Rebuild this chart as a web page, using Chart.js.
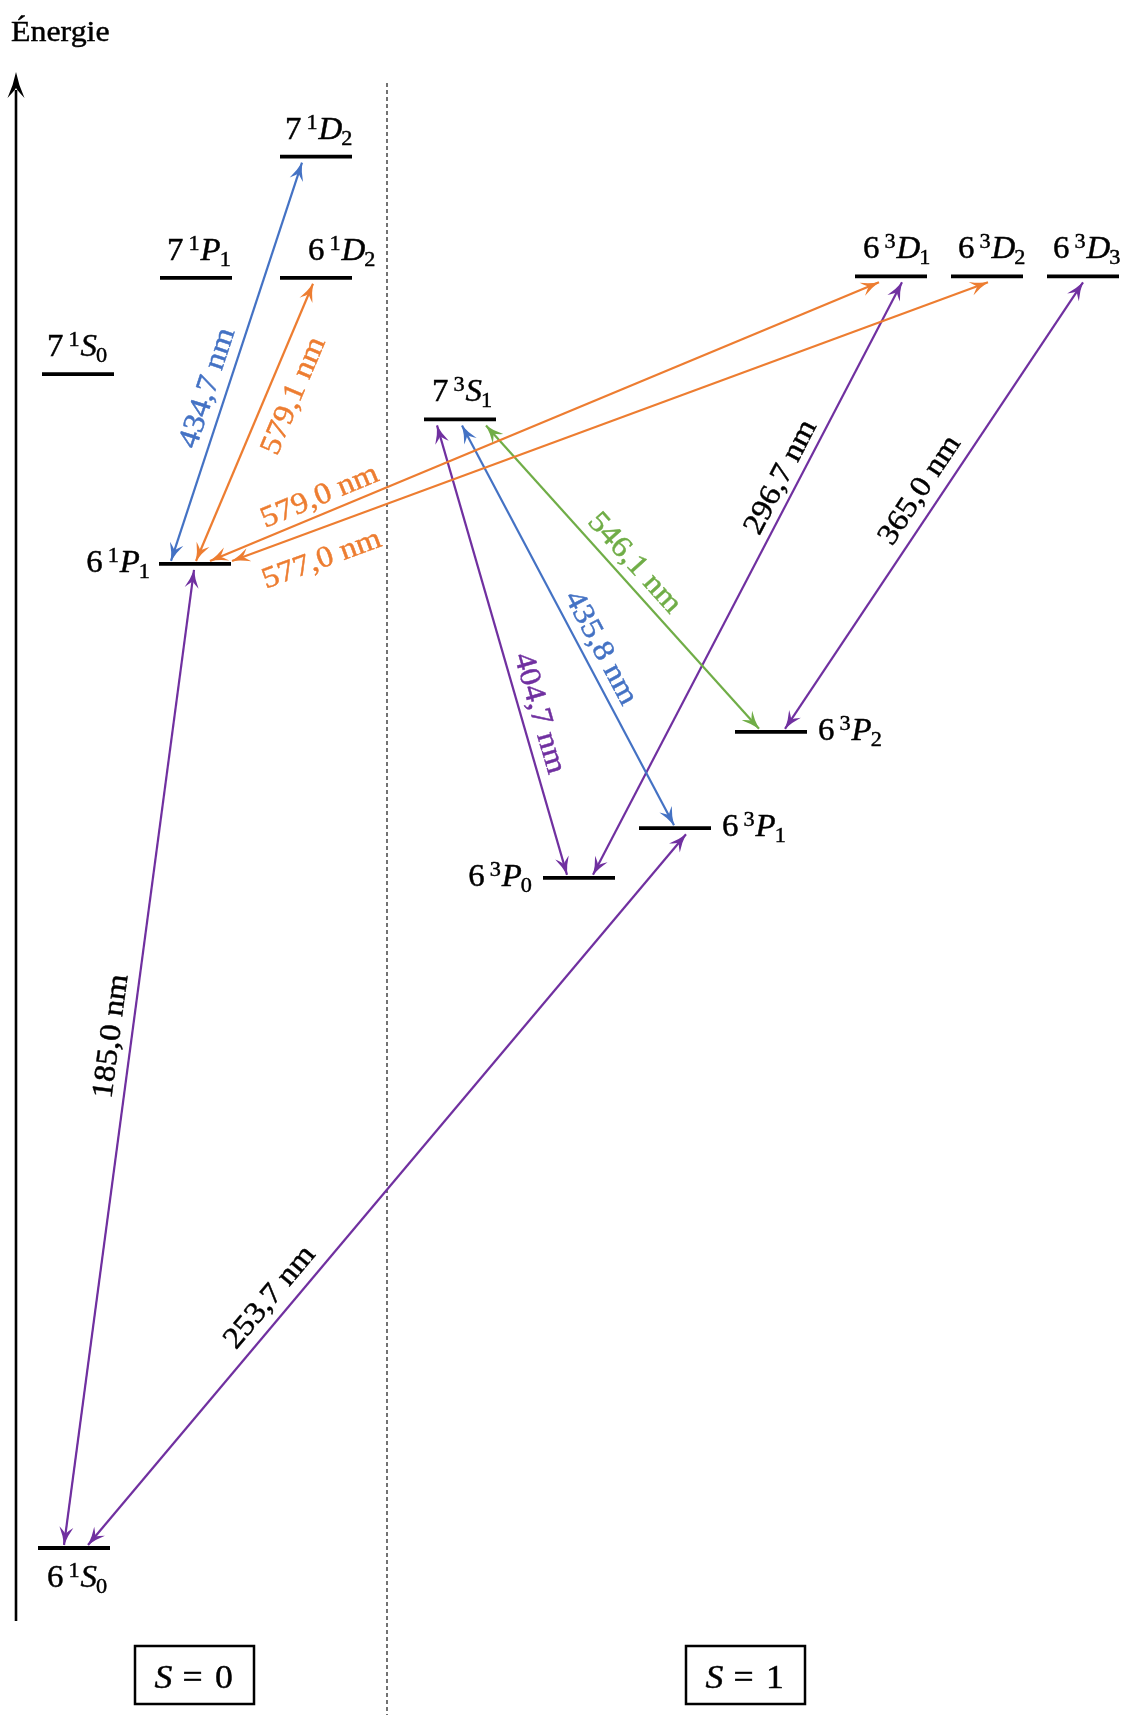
<!DOCTYPE html>
<html><head><meta charset="utf-8">
<script src="https://cdn.jsdelivr.net/npm/chart.js@4.4.1/dist/chart.umd.min.js"></script>
<style>html,body{margin:0;padding:0;background:#fff;}#wrap{width:1125px;height:1715px;}canvas{display:block;}</style>
</head><body><div id="wrap"><canvas id="c" width="1125" height="1715"></canvas></div>
<script>
// ---------------- DATA ----------------
// Energy levels of mercury (energy in eV)
const levelN        = [6,   6,    7,    7,    6,    7,    6,    6,    6,    7,    6,    6,    6];
const levelMult     = [1,   1,    1,    1,    1,    1,    3,    3,    3,    3,    3,    3,    3];
const levelL        = ['S','P',  'S',  'P',  'D',  'D',  'P',  'P',  'P',  'S',  'D',  'D',  'D'];
const levelJ        = [0,   1,    0,    1,    2,    2,    0,    1,    2,    1,    1,    2,    3];
const levelEnergy   = [0.00,6.74, 8.04, 8.70, 8.70, 9.53, 4.59, 4.93, 5.59, 7.73, 8.71, 8.71, 8.71];

// Transitions (index into level arrays), wavelength in nm
const transLower      = [0,   0,    1,    1,    1,    1,    8,    7,    6,    6,    8];
const transUpper      = [1,   7,    5,    4,    10,   11,   9,    9,    9,    10,   12];
const transWavelength = [185.0, 253.7, 434.7, 579.1, 579.0, 577.0, 546.1, 435.8, 404.7, 296.7, 365.0];

// Spin groups
const spinLabels = ['S = 0', 'S = 1'];
const axisTitle = 'Énergie';

// ---------------- LAYOUT / STYLE ----------------
const W = 1125, H = 1715;
const PX_PER_EV = 146;
const GROUND_PX = 1548;
const Y_MAX = GROUND_PX / PX_PER_EV;
const Y_MIN = Y_MAX - H / PX_PER_EV;

const levelX0   = [38, 159, 42, 160, 280, 280, 543, 639, 735, 424, 855, 951, 1047];
const LEVEL_W   = 72;
const levelSide = ['below','left','above','above','above','above','left','right','right','above','above','above','above'];
const levelDx   = [9, 8, 5, 7, 28, 5, 10, 11, 11, 8, 8, 7, 6];

const PURPLE = '#7030A0', BLUE = '#4472C4', ORANGE = '#ED7D31', GREEN = '#70AD47';
const transColor = [PURPLE, PURPLE, BLUE, ORANGE, ORANGE, ORANGE, GREEN, BLUE, PURPLE, PURPLE, PURPLE];
const transTextColor = ['#000','#000', BLUE, ORANGE, ORANGE, ORANGE, GREEN, BLUE, PURPLE, '#000', '#000'];
const transLowX = [64, 88, 171, 196, 210, 232, 759, 674, 567, 593, 785];
const transUpX  = [194, 686, 302, 313, 879, 988, 486, 462, 437, 902, 1083];
const labelT = [0.519, 0.330, 0.419, 0.632, 0.174, 0.105, 0.506, 0.422, 0.348, 0.6575, 0.509];
const labelD = [22, 22, 21, -24, 19, -28, -20, -20, -20, 19, 22];
const GAP_LOW = 3, GAP_UP = 6;

const SERIF = '"Liberation Serif", "DejaVu Serif", serif';
const SX = 1.1;
const HEAD_L = 18, HEAD_W = 7;

// ---------------- DATASETS ----------------
const datasets = [];
levelEnergy.forEach((e, i) => {
  datasets.push({
    kind: 'level', idx: i,
    data: [{x: levelX0[i], y: e}, {x: levelX0[i] + LEVEL_W, y: e}],
    showLine: true, borderColor: '#000', borderWidth: 3.8, pointRadius: 0,
    borderCapStyle: 'butt', order: 1
  });
});
transWavelength.forEach((wl, k) => {
  const lo = transLower[k], up = transUpper[k];
  datasets.push({
    kind: 'trans', idx: k,
    data: [{x: transLowX[k], y: levelEnergy[lo] + GAP_LOW / PX_PER_EV},
           {x: transUpX[k],  y: levelEnergy[up] - GAP_UP / PX_PER_EV}],
    showLine: true, borderColor: transColor[k], borderWidth: 2.2, pointRadius: 0,
    borderCapStyle: 'butt', order: 2
  });
});

// ---------------- DRAW HELPERS ----------------
function drawText(ctx, s, x, y, font, color, sx) {
  ctx.save();
  ctx.font = font; ctx.fillStyle = color; ctx.strokeStyle = color; ctx.lineWidth = 0.45;
  ctx.textAlign = 'left'; ctx.textBaseline = 'alphabetic';
  ctx.translate(x, y); ctx.scale(sx, 1); ctx.fillText(s, 0, 0); ctx.strokeText(s, 0, 0);
  ctx.restore();
}
function textW(ctx, s, font, sx) { ctx.save(); ctx.font = font; const w = ctx.measureText(s).width * sx; ctx.restore(); return w; }

function arrowHead(ctx, tx, ty, ux, uy, L, Wd, color) {
  const nx = -uy, ny = ux;
  const bx = tx - ux * L, by = ty - uy * L;
  const mx = tx - ux * L * 0.62, my = ty - uy * L * 0.62;
  ctx.save();
  ctx.fillStyle = color;
  ctx.beginPath();
  ctx.moveTo(tx, ty);
  ctx.quadraticCurveTo(tx - ux * L * 0.5 + nx * Wd * 0.3, ty - uy * L * 0.5 + ny * Wd * 0.3, bx + nx * Wd, by + ny * Wd);
  ctx.quadraticCurveTo(tx - ux * L * 0.75 + nx * Wd * 0.25, ty - uy * L * 0.75 + ny * Wd * 0.25, mx, my);
  ctx.quadraticCurveTo(tx - ux * L * 0.75 - nx * Wd * 0.25, ty - uy * L * 0.75 - ny * Wd * 0.25, bx - nx * Wd, by - ny * Wd);
  ctx.quadraticCurveTo(tx - ux * L * 0.5 - nx * Wd * 0.3, ty - uy * L * 0.5 - ny * Wd * 0.3, tx, ty);
  ctx.closePath();
  ctx.fill();
  ctx.restore();
}

function levelLabel(ctx, i, xs, ys) {
  const F = 31, f = 21;
  const big = `${F}px ${SERIF}`, bigI = `italic ${F}px ${SERIF}`, small = `${f}px ${SERIF}`;
  const sN = String(levelN[i]), sM = String(levelMult[i]), sL = levelL[i], sJ = String(levelJ[i]);
  const sx = 1.06;
  const wN = textW(ctx, sN, big, sx), wM = textW(ctx, sM, small, sx), wL = textW(ctx, sL, bigI, sx), wJ = textW(ctx, sJ, small, sx);
  const gap = 5;
  const total = wN + gap + wM + 1 + wL + wJ;
  const x0 = levelX0[i], x1 = x0 + LEVEL_W;
  let x, base;
  const side = levelSide[i];
  if (side === 'above') { x = x0 + levelDx[i]; base = ys - 18; }
  else if (side === 'below') { x = x0 + levelDx[i]; base = ys + 39; }
  else if (side === 'left') { x = x0 - levelDx[i] - total; base = ys + 8; }
  else { x = x1 + levelDx[i]; base = ys + 8; }
  drawText(ctx, sN, x, base, big, '#000', sx); x += wN + gap;
  drawText(ctx, sM, x, base - 10, small, '#000', sx); x += wM + 1;
  drawText(ctx, sL, x, base, bigI, '#000', sx); x += wL;
  drawText(ctx, sJ, x - 1, base + 6, small, '#000', sx);
}

// ---------------- PLUGIN ----------------
const diagram = {
  id: 'diagram',
  beforeDatasetsDraw(chart) {
    const ctx = chart.ctx;
    const xs = chart.scales.x;
    ctx.save(); ctx.fillStyle = '#fff'; ctx.fillRect(0, 0, W, H); ctx.restore();
    // dashed separator between spin groups
    const sepX = xs.getPixelForValue(387);
    ctx.save();
    ctx.strokeStyle = '#000'; ctx.lineWidth = 1.1; ctx.setLineDash([4, 3]);
    ctx.beginPath(); ctx.moveTo(sepX, 83); ctx.lineTo(sepX, H); ctx.stroke();
    ctx.restore();
    // energy axis
    const ax = xs.getPixelForValue(16);
    ctx.save();
    ctx.strokeStyle = '#000'; ctx.lineWidth = 2.6;
    ctx.beginPath(); ctx.moveTo(ax, 1621); ctx.lineTo(ax, 90); ctx.stroke();
    ctx.restore();
    arrowHead(ctx, ax, 72, 0, -1, 26, 8.5, '#000');
    drawText(ctx, axisTitle, 11, 41, `29px ${SERIF}`, '#000', 1.1);
    // spin boxes
    const boxX = [135, 686];
    boxX.forEach((bx, k) => {
      ctx.save();
      ctx.strokeStyle = '#000'; ctx.lineWidth = 2.5;
      ctx.strokeRect(bx, 1646, 119, 58);
      ctx.restore();
      const parts = spinLabels[k].split(' ');
      const fonts = [`italic 34px ${SERIF}`, `34px ${SERIF}`, `34px ${SERIF}`];
      const centers = [28.5, 57.5, 89];
      parts.forEach((p, j) => {
        const w = textW(ctx, p, fonts[j], 1.05);
        drawText(ctx, p, bx + centers[j] - w / 2, 1688, fonts[j], '#000', 1.05);
      });
    });
  },
  afterDatasetsDraw(chart) {
    const ctx = chart.ctx;
    chart.data.datasets.forEach((ds, di) => {
      const meta = chart.getDatasetMeta(di);
      if (ds.kind === 'level') {
        levelLabel(ctx, ds.idx, meta.data[0].x, meta.data[0].y);
      } else {
        const k = ds.idx;
        const p0 = meta.data[0], p1 = meta.data[1];
        const dx = p1.x - p0.x, dy = p1.y - p0.y, len = Math.hypot(dx, dy);
        const ux = dx / len, uy = dy / len;
        arrowHead(ctx, p1.x, p1.y, ux, uy, HEAD_L, HEAD_W, transColor[k]);
        arrowHead(ctx, p0.x, p0.y, -ux, -uy, HEAD_L, HEAD_W, transColor[k]);
        // label
        const nx = uy, ny = -ux;
        const cx = p0.x + dx * labelT[k] + nx * labelD[k];
        const cy = p0.y + dy * labelT[k] + ny * labelD[k];
        let ang = Math.atan2(dy, dx);
        if (ang > Math.PI / 2) ang -= Math.PI;
        if (ang < -Math.PI / 2) ang += Math.PI;
        const s = transWavelength[k].toFixed(1).replace('.', ',') + ' nm';
        ctx.save();
        ctx.translate(cx, cy); ctx.rotate(ang); ctx.scale(1.1, 1);
        ctx.font = `30px ${SERIF}`; ctx.fillStyle = transTextColor[k];
        ctx.strokeStyle = transTextColor[k]; ctx.lineWidth = 0.45;
        ctx.textAlign = 'center'; ctx.textBaseline = 'middle';
        ctx.fillText(s, 0, 2); ctx.strokeText(s, 0, 2);
        ctx.restore();
      }
    });
  }
};

new Chart(document.getElementById('c').getContext('2d'), {
  type: 'scatter',
  data: { datasets },
  options: {
    responsive: false, animation: false, events: [],
    layout: { padding: 0 },
    plugins: { legend: { display: false }, tooltip: { enabled: false }, title: { display: false } },
    scales: {
      x: { type: 'linear', min: 0, max: W, display: false },
      y: { type: 'linear', min: Y_MIN, max: Y_MAX, display: false }
    }
  },
  plugins: [diagram]
});
</script>
</body></html>
